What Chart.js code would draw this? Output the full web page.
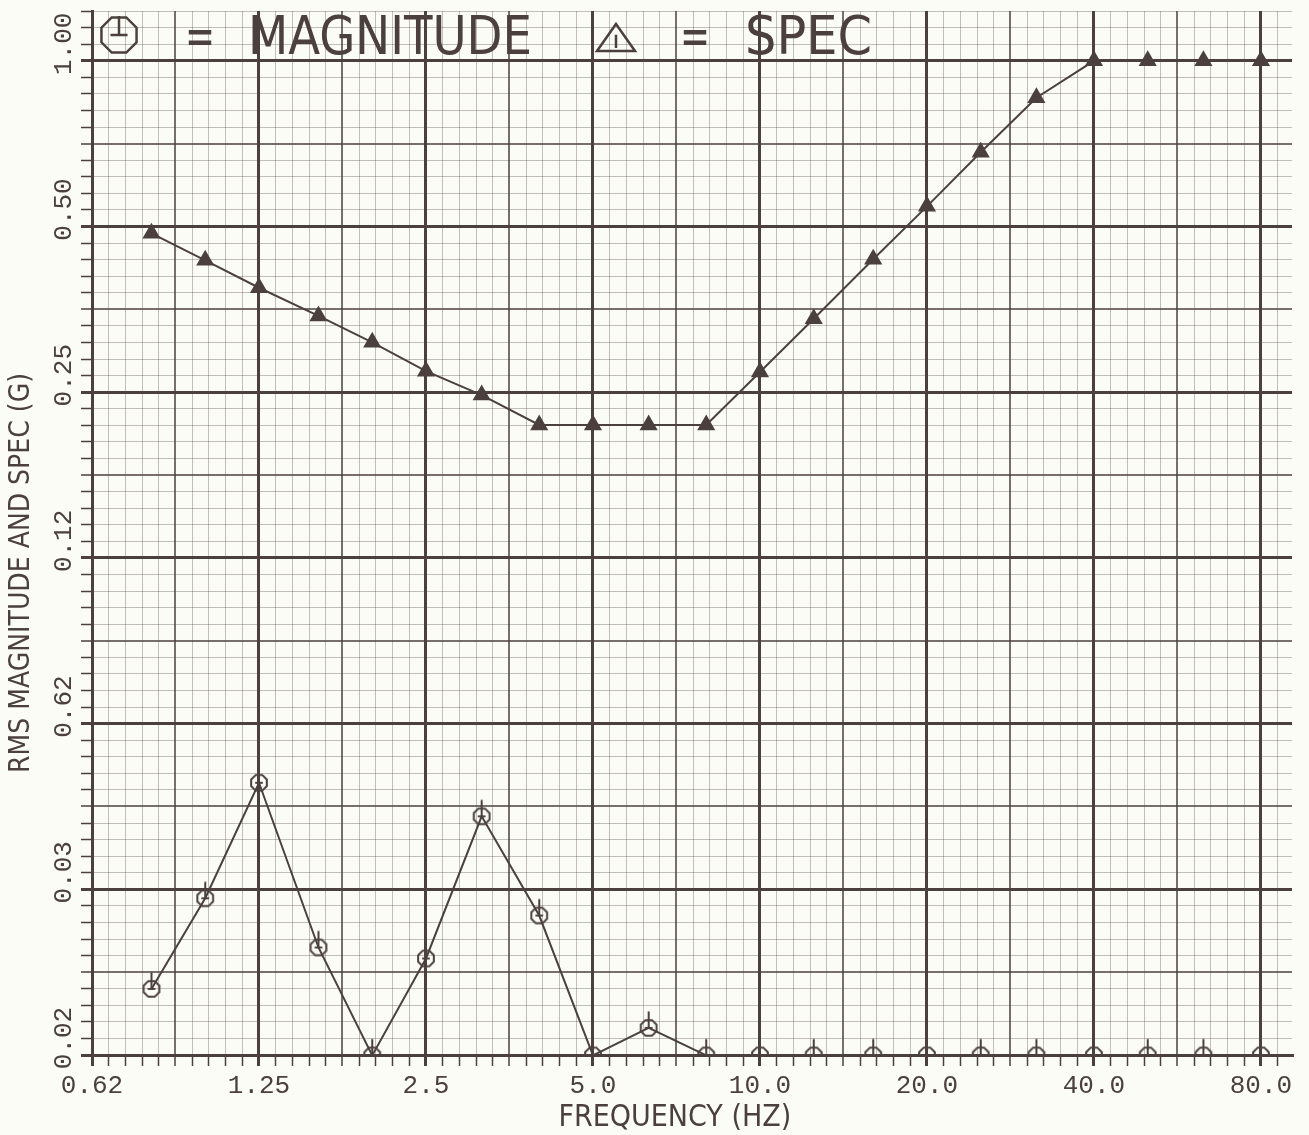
<!DOCTYPE html>
<html lang="en">
<head>
<meta charset="UTF-8">
<title>RMS Magnitude and Spec</title>
<script src="https://cdn.jsdelivr.net/npm/chart.js"></script>
<style>
  html, body { margin: 0; padding: 0; background: #fcfcf6; }
  #wrap { width: 1309px; height: 1135px; }
</style>
</head>
<body>
<div id="wrap"><canvas id="chart"></canvas></div>
<script>
// 1/3 octave centre frequencies (Hz)
const frequencies = [0.8, 1.0, 1.25, 1.6, 2.0, 2.5, 3.15, 4.0, 5.0, 6.3, 8.0, 10.0, 12.5, 16.0, 20.0, 25.0, 31.5, 40.0, 50.0, 63.0, 80.0];
// RMS magnitude (G), points on the floor of the plot read as the floor value
const magnitude = [0.0206, 0.0301, 0.0488, 0.0245, 0.0156, 0.0234, 0.0424, 0.0280, 0.0156, 0.0175, 0.0156, 0.0156, 0.0156, 0.0156, 0.0156, 0.0156, 0.0156, 0.0156, 0.0156, 0.0156, 0.0156];
// spec (G)
const spec = [0.486, 0.434, 0.387, 0.344, 0.308, 0.273, 0.247, 0.218, 0.218, 0.218, 0.218, 0.272, 0.340, 0.436, 0.544, 0.682, 0.857, 1.0, 1.0, 1.0, 1.0];

const xTickValues = [0.625, 1.25, 2.5, 5, 10, 20, 40, 80];
const xTickLabels = ['0.62', '1.25', '2.5', '5.0', '10.0', '20.0', '40.0', '80.0'];
const yTickValues = [0.015625, 0.03125, 0.0625, 0.125, 0.25, 0.5, 1.0];
const yTickLabels = ['0.02', '0.03', '0.62', '0.12', '0.25', '0.50', '1.00'];

const xMin = 0.625, xMax = 91.0;
const yMin = 0.015625, yMax = 1.2317;

const ink = '#4b403d';
const paper = '#fcfcf6';
const narrow = "'Liberation Sans Narrow', 'DejaVu Sans Condensed', 'Roboto Condensed', sans-serif";
const mono = "'Liberation Mono', 'DejaVu Sans Mono', monospace";

// graph paper: ten divisions per octave between the labelled ticks
function paperTicks(majors, labels, max) {
    let ticks = [];
    majors.forEach((v, i) => {
        for (let j = 0; j < 10; j++) {
            let value = v * Math.pow(2, j / 10);
            if (value > max * 1.0001) break;
            ticks.push({ value: value, major: j === 0, mid: j === 5, label: j === 0 ? labels[i] : '' });
        }
    });
    return ticks;
}

function gridColor(c) {
    if (!c.tick) return ink;
    if (c.tick.major) return ink;
    if (c.tick.mid) return 'rgba(75,64,61,0.75)';
    return 'rgba(75,64,61,0.33)';
}
function gridWidth(c) {
    if (!c.tick) return 1;
    if (c.tick.major) return 3;
    if (c.tick.mid) return 2;
    return 1;
}

// octagon marker with a stem, as drawn by the plotter
function octagon(w, h, cx, cy, r, stem, lw) {
    let c = document.createElement('canvas');
    c.width = w; c.height = h;
    let g = c.getContext('2d');
    g.strokeStyle = ink;
    g.lineWidth = lw;
    g.beginPath();
    for (let k = 0; k < 8; k++) {
        let a = Math.PI / 8 + k * Math.PI / 4;
        let px = cx + r * Math.cos(a), py = cy + r * Math.sin(a);
        if (k === 0) g.moveTo(px, py); else g.lineTo(px, py);
    }
    g.closePath();
    g.stroke();
    g.beginPath();
    g.moveTo(cx, cy - r - stem);
    g.lineTo(cx, cy);
    g.moveTo(cx - r * 0.45, cy);
    g.lineTo(cx + r * 0.45, cy);
    g.stroke();
    return c;
}

function triangleMark(w, h, cx, top, bottom, half, lw) {
    let c = document.createElement('canvas');
    c.width = w; c.height = h;
    let g = c.getContext('2d');
    g.strokeStyle = ink;
    g.lineWidth = lw;
    g.beginPath();
    g.moveTo(cx, top);
    g.lineTo(cx + half, bottom);
    g.lineTo(cx - half, bottom);
    g.closePath();
    g.moveTo(cx, top + (bottom - top) * 0.4);
    g.lineTo(cx, bottom - 3);
    g.stroke();
    return c;
}

const dataMark = octagon(24, 40, 12, 20, 8.5, 8, 2);
const legendMag = octagon(48, 48, 24, 24, 19, 0, 2.5);
const legendSpec = triangleMark(48, 48, 24, 13, 40, 19, 2.5);

const paperPlugin = {
    id: 'paper',
    beforeDraw(chart) {
        const ctx = chart.ctx;
        ctx.save();
        ctx.fillStyle = paper;
        ctx.fillRect(0, 0, chart.width, chart.height);
        ctx.restore();
    }
};

// the plotter wrote its key inside the top of the grid
const keyPlugin = {
    id: 'plotterKey',
    afterDatasetsDraw(chart) {
        const ctx = chart.ctx;
        const a = chart.chartArea;
        const names = chart.data.datasets.map(d => d.label);
        ctx.save();
        ctx.fillStyle = ink;
        ctx.font = '54px ' + narrow;
        ctx.textBaseline = 'alphabetic';
        const put = (text, x, w) => {
            let m = ctx.measureText(text).width;
            ctx.save();
            ctx.translate(a.left + x, a.top + 43);
            ctx.scale(w / m, 1);
            ctx.fillText(text, 0, 0);
            ctx.restore();
        };
        ctx.drawImage(legendMag, a.left + 27 - 24, a.top);
        put('=', 93, 30);
        put(names[0], 156, 284);
        ctx.drawImage(legendSpec, a.left + 524 - 24, a.top);
        put('=', 588, 30);
        put(names[1], 653, 127);
        ctx.restore();
    }
};

// vertical tick labels on the y axis
const yLabelPlugin = {
    id: 'yLabels',
    afterDraw(chart) {
        const ctx = chart.ctx;
        const scale = chart.scales.y;
        ctx.save();
        ctx.fillStyle = ink;
        ctx.font = '26px ' + mono;
        ctx.textAlign = 'center';
        ctx.textBaseline = 'middle';
        yTickValues.forEach((v, i) => {
            let py = scale.getPixelForValue(v);
            ctx.save();
            ctx.translate(scale.right - 28, py - 17);
            ctx.rotate(-Math.PI / 2);
            ctx.fillText(yTickLabels[i], 0, 0);
            ctx.restore();
        });
        ctx.restore();
    }
};

new Chart(document.getElementById('chart'), {
    type: 'line',
    data: {
        datasets: [{
            label: 'MAGNITUDE',
            data: frequencies.map((f, i) => ({ x: f, y: magnitude[i] })),
            borderColor: ink,
            borderWidth: 2,
            pointStyle: dataMark,
            pointRadius: 9,
            tension: 0
        }, {
            label: 'SPEC',
            data: frequencies.map((f, i) => ({ x: f, y: spec[i] })),
            borderColor: ink,
            backgroundColor: ink,
            borderWidth: 2,
            pointStyle: 'triangle',
            pointRadius: 8.5,
            pointBackgroundColor: ink,
            tension: 0
        }]
    },
    options: {
        responsive: true,
        maintainAspectRatio: false,
        animation: false,
        layout: { padding: { top: 7, right: 17, bottom: 5, left: 0 } },
        scales: {
            x: {
                type: 'logarithmic',
                bounds: 'data',
                min: xMin,
                max: xMax,
                afterBuildTicks: s => {
                    s.ticks = paperTicks(xTickValues, xTickLabels, xMax);
                    s.min = xMin;
                    s.max = xMax;
                },
                ticks: {
                    autoSkip: false,
                    maxRotation: 0,
                    minRotation: 0,
                    padding: 7,
                    color: ink,
                    font: { family: mono, size: 26, lineHeight: 1 },
                    callback: function (value, index, ticks) { return ticks[index].label; }
                },
                grid: {
                    color: gridColor,
                    lineWidth: gridWidth,
                    tickColor: ink,
                    tickWidth: c => (c.tick && c.tick.major ? 3 : 1.5),
                    tickLength: 11
                },
                border: { display: true, color: ink, width: 3 },
                title: {
                    display: true,
                    text: 'FREQUENCY (HZ)' + ' '.repeat(4),
                    color: ink,
                    font: { family: narrow, size: 30, lineHeight: 0.8 },
                    padding: { top: 0, bottom: 0 }
                }
            },
            y: {
                type: 'logarithmic',
                bounds: 'data',
                min: yMin,
                max: yMax,
                afterBuildTicks: s => {
                    s.ticks = paperTicks(yTickValues, yTickLabels, yMax);
                    s.min = yMin;
                    s.max = yMax;
                },
                ticks: { display: false, autoSkip: false },
                grid: {
                    color: gridColor,
                    lineWidth: gridWidth,
                    tickColor: ink,
                    tickWidth: c => (c.tick && c.tick.major ? 3 : 1.5),
                    tickLength: 11
                },
                border: { display: true, color: ink, width: 3 },
                title: {
                    display: true,
                    text: 'RMS MAGNITUDE AND SPEC (G)' + ' '.repeat(10),
                    color: ink,
                    font: { family: narrow, size: 28, lineHeight: 1.2 },
                    padding: { top: 5, bottom: 42.4 }
                }
            }
        },
        plugins: {
            legend: { display: false },
            tooltip: { enabled: false }
        }
    },
    plugins: [paperPlugin, keyPlugin, yLabelPlugin]
});
</script>
</body>
</html>
